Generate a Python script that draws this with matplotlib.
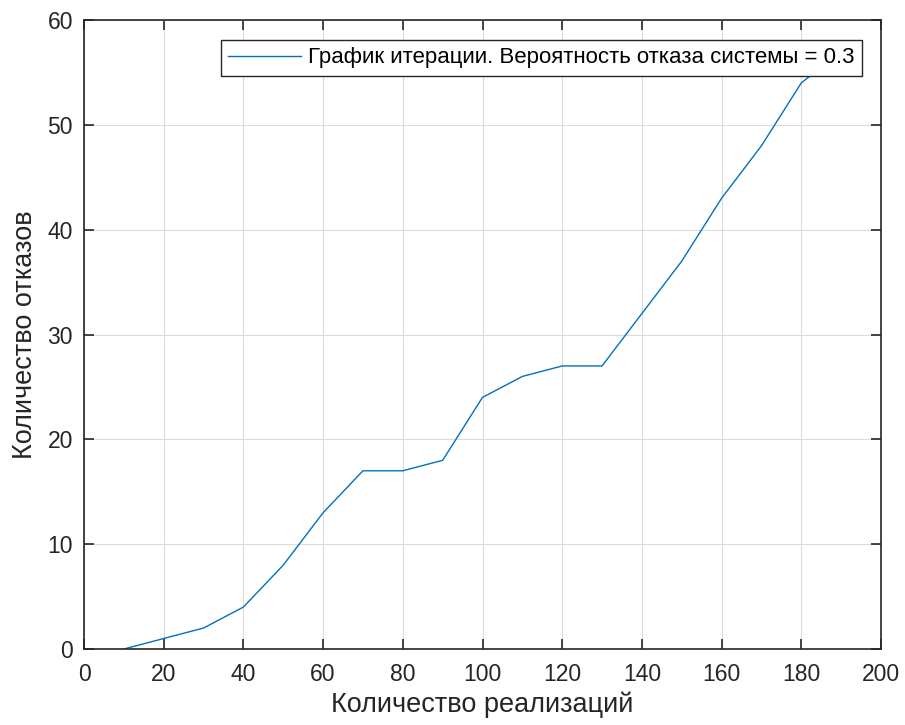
import matplotlib
matplotlib.use("Agg")
import matplotlib.pyplot as plt

x_vals = [10, 20, 30, 40, 50, 60, 70, 80, 90, 100, 110, 120, 130, 140, 150, 160, 170, 180, 190]
y_vals = [0, 1, 2, 4, 8, 13, 17, 17, 18, 24, 26, 27, 27, 32, 37, 43, 48, 54, 57]
x_ticks = [0, 20, 40, 60, 80, 100, 120, 140, 160, 180, 200]
y_ticks = [0, 10, 20, 30, 40, 50, 60]
legend_label = "График итерации. Вероятность отказа системы = 0.3"

plt.rcParams['font.family'] = ['Liberation Sans', 'DejaVu Sans']
fig = plt.figure(figsize=(9.05, 7.25), dpi=100)
ax = fig.add_axes([84/905, 1-649/725, (881-84)/905, (649-20)/725])
ax.plot(x_vals, y_vals, color='#0072BD', lw=1.0, label=legend_label)
ax.set_xlim(0, 200)
ax.set_ylim(0, 60)
ax.set_xticks(x_ticks)
ax.set_yticks(y_ticks)
ax.grid(True, color='#dcdcdc', lw=0.8)
ax.set_axisbelow(True)
ax.tick_params(direction='in', length=7, width=1.2, top=True, right=True,
               labelsize=16.5, colors='#262626')
ax.tick_params(axis='x', pad=10)
ax.tick_params(axis='y', pad=8)
for s in ax.spines.values():
    s.set_linewidth(1.2)
    s.set_color('#262626')
ax.set_xlabel("Количество реализаций", fontsize=19.5, color='#262626', labelpad=4)
ax.set_ylabel("Количество отказов", fontsize=19.5, color='#262626', labelpad=6.5)
leg = ax.legend(loc='upper right', bbox_to_anchor=(0.976, 0.968), fontsize=16,
                fancybox=False, framealpha=1, edgecolor='#262626',
                handlelength=3.3, handletextpad=0.3, borderpad=0.33, borderaxespad=0)
leg.get_frame().set_linewidth(1.0)
fig.savefig("out.png", dpi=100, facecolor='white')
